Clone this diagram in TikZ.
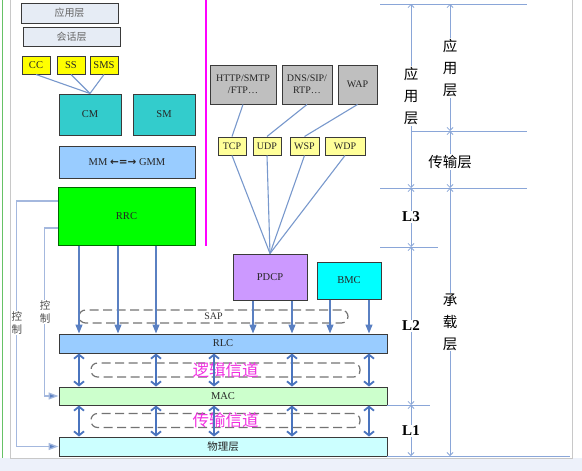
\documentclass[tikz,border=0pt]{standalone}
\usepackage{fontspec}
\setmainfont{Liberation Serif}
\newfontfamily\cjk{Noto Sans CJK SC}
\newfontfamily\symfont{DejaVu Sans}
\usetikzlibrary{arrows.meta}

\definecolor{boxline}{HTML}{3A3A3A}
\definecolor{linkblue}{HTML}{7898CC}
\definecolor{arrowblue}{HTML}{5A80C2}
\definecolor{chanblue}{HTML}{4A74BE}
\definecolor{ctrlblue}{HTML}{A4B8DE}
\definecolor{dimblue}{HTML}{8AA6D8}
\definecolor{topgray}{HTML}{E6ECF5}
\definecolor{appgray}{HTML}{BFBFBF}
\definecolor{lightyellow}{HTML}{FFFF99}
\definecolor{tagyellow}{HTML}{FFFF00}
\definecolor{cmteal}{HTML}{33CCCC}
\definecolor{skyblue}{HTML}{99CCFF}
\definecolor{rrcgreen}{HTML}{00FF00}
\definecolor{pdcppurple}{HTML}{CC99FF}
\definecolor{bmccyan}{HTML}{00FFFF}
\definecolor{macgreen}{HTML}{CCFFCC}
\definecolor{phycyan}{HTML}{CCFFFF}
\definecolor{stripblue}{HTML}{EDF1FA}
\definecolor{framegray}{HTML}{C8C8C8}
\definecolor{splitpink}{HTML}{FF00FF}
\definecolor{chanpink}{HTML}{F030E0}

\begin{document}
\begin{tikzpicture}[x=1pt, y=-1pt,
    protonode/.style={rectangle, draw=boxline, line width=1pt, text=black!85, inner sep=0pt,
                      font=\fontsize{10.5}{11}\selectfont},
    toplayer/.style={protonode, fill=topgray, text=black!60, font=\cjk\fontsize{10}{11}\selectfont},
    tagnode/.style={protonode, fill=tagyellow, minimum width=28pt, minimum height=18pt, font=\fontsize{10.5}{11}\selectfont},
    portnode/.style={protonode, fill=lightyellow, minimum height=18pt, font=\fontsize{10}{11}\selectfont},
    appnode/.style={protonode, fill=appgray, minimum height=39pt, align=center, font=\fontsize{10}{12}\selectfont},
    layerbar/.style={protonode, minimum width=328pt},
    sapnode/.style={draw=black!55, dashed, dash pattern=on 9pt off 4.5pt, line width=1.2pt,
                    rounded corners=6.5pt, inner sep=0pt, text=black!80, font=\fontsize{10}{10}\selectfont},
    chantext/.style={text=chanpink, font=\cjk\fontsize{16.5}{18}\selectfont},
    link/.style={draw=linkblue, line width=1.1pt},
    downarrow/.style={draw=arrowblue, line width=1.3pt, -{Triangle[length=9pt,width=7pt]}},
    dblarrow/.style={draw=chanblue, line width=1.8pt,
                     {Straight Barb[length=4pt,width=10pt]}-{Straight Barb[length=4pt,width=10pt]}},
    ctrlline/.style={draw=ctrlblue, line width=1.3pt, -{Triangle[length=10pt,width=7pt,fill=arrowblue]}},
    ctrltext/.style={fill=white, inner sep=1pt, align=center, text=black!70, font=\cjk\fontsize{10.5}{13}\selectfont},
    dimline/.style={draw=dimblue, line width=0.8pt},
    dimarrow/.style={dimline, {Straight Barb[length=3pt,width=6pt]}-{Straight Barb[length=3pt,width=6pt]}},
    dimtext/.style={fill=white, inner sep=1pt, align=center, font=\cjk\fontsize{14.5}{22}\selectfont},
    ltext/.style={fill=white, inner sep=1pt, font=\bfseries\fontsize{15}{16}\selectfont},
]
    \useasboundingbox (0,0) rectangle (582,471);
    %Frame
    \fill[stripblue] (0,458) rectangle (582,471);
    \draw[framegray, line width=0.8pt] (10,0) -- (10,458) -- (572,458) -- (572,0);
    \draw[green!60!black!60, line width=0.6pt] (2,0) -- (2,458);
    \draw[splitpink, line width=2.2pt] (206,0) -- (206,246);

    %Nodes
    \node[toplayer, minimum width=97pt, minimum height=20pt](app) at (69.5,13) {应用层};
    \node[toplayer, minimum width=97pt, minimum height=19pt](sess) at (71.5,36.5) {会话层};
    \node[tagnode](cc) at (36,65) {CC};
    \node[tagnode](ss) at (71,65) {SS};
    \node[tagnode](sms) at (104,65) {SMS};
    \node[protonode, fill=cmteal, minimum width=62pt, minimum height=41pt](cm) at (90,114.5) {CM};
    \node[protonode, fill=cmteal, minimum width=62pt, minimum height=41pt](sm) at (164,114.5) {SM};
    \node[protonode, fill=skyblue, minimum width=136pt, minimum height=32pt](mm) at (127,162)
        {MM {\symfont\bfseries ←=→} GMM};
    \node[protonode, draw=green!40!black, fill=rrcgreen, minimum width=137pt, minimum height=58pt](rrc) at (126.5,216) {RRC};

    \node[appnode, minimum width=66pt](http) at (243,84.5) {HTTP/SMTP\\/FTP…};
    \node[appnode, minimum width=50pt](dns) at (307,84.5) {DNS/SIP/\\RTP…};
    \node[appnode, minimum width=39pt](wap) at (357.5,84.5) {WAP};
    \node[portnode, minimum width=28pt](tcp) at (232,146) {TCP};
    \node[portnode, minimum width=28pt](udp) at (267,146) {UDP};
    \node[portnode, minimum width=29pt](wsp) at (304.5,146) {WSP};
    \node[portnode, minimum width=40pt](wdp) at (345,146) {WDP};
    \node[protonode, fill=pdcppurple, minimum width=74pt, minimum height=46pt](pdcp) at (270,277) {PDCP};
    \node[protonode, fill=bmccyan, minimum width=64pt, minimum height=37pt](bmc) at (349,280.5) {BMC};

    \node[sapnode, minimum width=269pt, minimum height=13pt](sap) at (213.5,316.5) {SAP};
    \node[layerbar, fill=skyblue, minimum height=19pt](rlc) at (223,343.5) {RLC};
    \node[sapnode, minimum width=269pt, minimum height=14pt](logch) at (225.5,370) {};
    \node[layerbar, fill=macgreen, minimum height=18pt](mac) at (223,396) {MAC};
    \node[sapnode, minimum width=269pt, minimum height=14pt](trch) at (225.5,420.5) {};
    \node[layerbar, fill=phycyan, minimum height=19pt](phy) at (223,446.5) {\cjk 物理层};

    %Lines
    \foreach \tag in {cc,ss,sms} \draw[link](\tag.south) -- (cm.north);
    \draw[link](http.south) -- (tcp.north);
    \draw[link](dns.south) -- (udp.north);
    \draw[link](wap.south) -- (wsp.north);
    \foreach \port in {tcp,udp,wsp,wdp} \draw[link](\port.south) -- (pdcp.north);

    \foreach \x in {79,118,156} \draw[downarrow](\x,0 |- rrc.south) -- (\x,0 |- rlc.north);
    \foreach \x in {253,292} \draw[downarrow](\x,0 |- pdcp.south) -- (\x,0 |- rlc.north);
    \foreach \x in {330,369} \draw[downarrow](\x,0 |- bmc.south) -- (\x,0 |- rlc.north);

    \node[chantext](logtext) at (logch.center) {逻辑信道};
    \node[chantext](trtext) at (trch.center) {传输信道};
    \foreach \x in {79,156,214,292,369} {
        \draw[dblarrow](\x,0 |- rlc.south) -- (\x,0 |- mac.north);
        \draw[dblarrow](\x,0 |- mac.south) -- (\x,0 |- phy.north);
    }

    \draw[ctrlline]([yshift=15pt]rrc.west) -- ++(-41,0) |- (phy.west);
    \draw[ctrlline]([yshift=-12pt]rrc.west) -- ++(-13,0) |- (mac.west);
    \node[ctrltext](ctrlout) at (17,323) {控\\制};
    \node[ctrltext](ctrlin) at (45,312) {控\\制};

    %Dimensions
    \draw[dimline] (380,4) -- (527,4);
    \draw[dimline] (411,131) -- (527,131);
    \draw[dimline] (380,188) -- (527,188);
    \draw[dimline] (380,247) -- (438,247);
    \draw[dimline] (387,405) -- (430,405);
    \draw[dimline] (387,456) -- (570,456);
    \draw[dimarrow] (411,4) -- (411,188);
    \draw[dimarrow] (411,188) -- (411,247);
    \draw[dimarrow] (411,247) -- (411,405);
    \draw[dimarrow] (411,405) -- (411,456);
    \draw[dimarrow] (450,4) -- (450,131);
    \draw[dimarrow] (450,131) -- (450,188);
    \draw[dimarrow] (450,188) -- (450,456);
    \node[dimtext](appdim) at (411,96) {应\\用\\层};
    \node[ltext](ldrei) at (411,217) {L3};
    \node[ltext](lzwei) at (411,326) {L2};
    \node[ltext](leins) at (411,431) {L1};
    \node[dimtext](appdimb) at (450,68) {应\\用\\层};
    \node[dimtext](transdim) at (450,162) {传输层};
    \node[dimtext](beardim) at (450,322) {承\\载\\层};
\end{tikzpicture}
\end{document}
